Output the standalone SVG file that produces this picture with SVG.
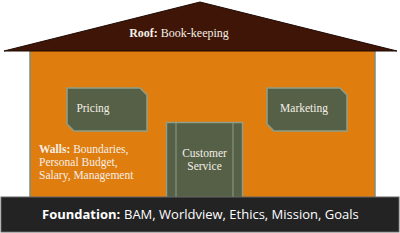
<svg xmlns="http://www.w3.org/2000/svg" width="400" height="233" viewBox="0 0 400 233">
<style>
.serif{font-family:"Liberation Serif","DejaVu Serif",serif;fill:#f4efe6}
.box{fill:#556046;stroke:#8f9e88;stroke-width:1.5}
.lbl{font-size:11.5px;text-anchor:middle}
.fnd{font-family:"Open Sans","Noto Sans","Liberation Sans",sans-serif;font-size:13px;fill:#ffffff}
</style>
<rect width="400" height="233" fill="#ffffff"/>
<g id="walls">
<rect x="30" y="50" width="345" height="150" fill="#e07d0f" stroke="#7f8d7c" stroke-width="1.5"/>
<text class="serif" x="39" y="153" font-size="11.5"><tspan font-weight="bold">Walls:</tspan> Boundaries,</text>
<text class="serif" x="39" y="166" font-size="11.5">Personal Budget,</text>
<text class="serif" x="39" y="179" font-size="11.5">Salary, Management</text>
</g>
<g id="roof">
<polygon points="200,2 4,51 397,51" fill="#3e1506" stroke="#1e0a03" stroke-width="1"/>
<text class="serif" x="179" y="37" font-size="12" text-anchor="middle"><tspan font-weight="bold">Roof:</tspan> Book-keeping</text>
</g>
<g id="pricing">
<path class="box" d="M67,88 H140 L147,95 V131 H74 L67,124 Z"/>
<text class="serif lbl" x="93" y="112">Pricing</text>
</g>
<g id="marketing">
<path class="box" d="M267,88 H340 L347,95 V131 H274 L267,124 Z"/>
<text class="serif lbl" x="304" y="112">Marketing</text>
</g>
<g id="customer-service">
<rect class="box" x="166.5" y="122.5" width="76" height="76"/>
<line x1="176" y1="123" x2="176" y2="198" stroke="#8f9e88" stroke-width="1"/>
<line x1="233" y1="123" x2="233" y2="198" stroke="#8f9e88" stroke-width="1"/>
<text class="serif lbl" x="204.5" y="157">Customer</text>
<text class="serif lbl" x="204.5" y="170">Service</text>
</g>
<g id="foundation">
<rect x="1" y="197" width="398" height="35" fill="#232323" stroke="#666" stroke-width="1"/>
<text class="fnd" x="42" y="219" font-weight="bold">Foundation:</text>
<text class="fnd" x="124" y="219">BAM, Worldview, Ethics, Mission, Goals</text>
</g>
<g id="connectors"/>
</svg>
